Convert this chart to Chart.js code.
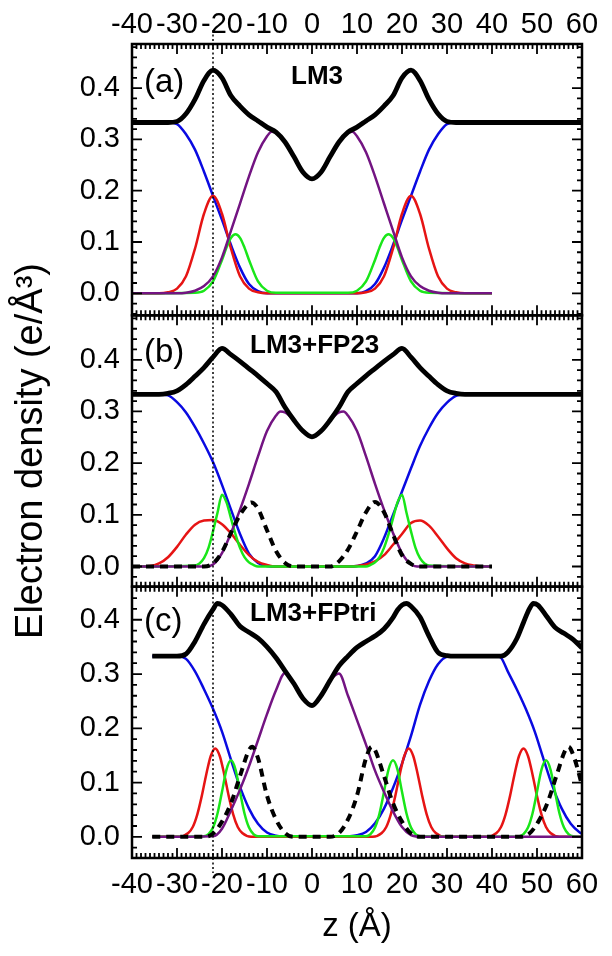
<!DOCTYPE html>
<html>
<head>
<meta charset="utf-8">
<script src="https://cdn.jsdelivr.net/npm/chart.js@4"></script>
<style>
  html, body { margin: 0; padding: 0; background: #fff; }
  #chart { display: block; }
</style>
</head>
<body>
<canvas id="chart" width="612" height="956"></canvas>
<script>
// axis ticks and labels
const zTicks = [-40, -30, -20, -10, 0, 10, 20, 30, 40, 50, 60];
const yTicks = [0, 0.1, 0.2, 0.3, 0.4];
const panelTags = ['(a)', '(b)', '(c)'];
const panelTitles = ['LM3', 'LM3+FP23', 'LM3+FPtri'];
const markerZ = -22;

// (a) LM3
const aBlackZ = [-40, -32, -30, -28, -26, -24, -22, -20, -18, -16, -14, -12, -10, -8, -6, -4, -2, 0, 2, 4, 6, 8, 10, 12, 14, 16, 18, 20, 22, 24, 26, 28, 30, 32, 60];
const aBlackV = [0.333, 0.333, 0.335, 0.35, 0.378, 0.415, 0.435, 0.42, 0.385, 0.365, 0.348, 0.336, 0.324, 0.314, 0.295, 0.266, 0.236, 0.223, 0.236, 0.266, 0.295, 0.314, 0.324, 0.336, 0.348, 0.365, 0.385, 0.42, 0.435, 0.415, 0.378, 0.35, 0.335, 0.333, 0.333];
const aBlueZ = [-40, -32, -30, -28, -26, -24, -22, -20, -18, -16, -14, -12, -10, 10, 12, 14, 16, 18, 20, 22, 24, 26, 28, 30, 32, 40];
const aBlueV = [0.333, 0.333, 0.33, 0.31, 0.28, 0.237, 0.19, 0.143, 0.094, 0.05, 0.018, 0.004, 0, 0, 0.004, 0.018, 0.05, 0.094, 0.143, 0.19, 0.237, 0.28, 0.31, 0.33, 0.333, 0.333];
const aRedZ = [-40, -34, -32, -30, -28, -26, -24, -22, -20, -18, -16, -14, -12, -10, 10, 12, 14, 16, 18, 20, 22, 24, 26, 28, 30, 32, 34, 40];
const aRedV = [0, 0, 0.002, 0.009, 0.033, 0.087, 0.155, 0.19, 0.155, 0.087, 0.033, 0.009, 0.002, 0, 0, 0.002, 0.009, 0.033, 0.087, 0.155, 0.19, 0.155, 0.087, 0.033, 0.009, 0.002, 0, 0];
const aGreenZ = [-40, -26, -24, -22, -20, -19, -18, -17, -16, -15, -14, -12, -10, -8, 8, 10, 12, 14, 15, 16, 17, 18, 19, 20, 22, 24, 26, 40];
const aGreenV = [0, 0.001, 0.005, 0.023, 0.065, 0.089, 0.108, 0.115, 0.108, 0.089, 0.065, 0.023, 0.005, 0.001, 0.001, 0.005, 0.023, 0.065, 0.089, 0.108, 0.115, 0.108, 0.089, 0.065, 0.023, 0.005, 0.001, 0];
const aPurpleZ = [-40, -30, -28, -26, -24, -22, -20, -18, -16, -14, -12, -10, -9, -8, -6, -4, -2, 0, 2, 4, 6, 8, 9, 10, 12, 14, 16, 18, 20, 22, 24, 26, 28, 30, 40];
const aPurpleV = [0, 0, 0.001, 0.005, 0.014, 0.033, 0.07, 0.122, 0.175, 0.228, 0.275, 0.306, 0.315, 0.313, 0.295, 0.266, 0.236, 0.223, 0.236, 0.266, 0.295, 0.313, 0.315, 0.306, 0.275, 0.228, 0.175, 0.122, 0.07, 0.033, 0.014, 0.005, 0.001, 0, 0];

// (b) LM3+FP23
const bBlackZ = [-40, -34, -32, -30, -28, -26, -24, -22, -20, -18, -16, -14, -12, -10, -8, -6, -4, -2, 0, 2, 4, 6, 8, 10, 12, 14, 16, 18, 20, 22, 24, 26, 28, 30, 32, 34, 60];
const bBlackV = [0.333, 0.333, 0.335, 0.34, 0.352, 0.368, 0.385, 0.405, 0.422, 0.41, 0.397, 0.383, 0.369, 0.354, 0.338, 0.308, 0.283, 0.262, 0.251, 0.262, 0.283, 0.308, 0.338, 0.354, 0.369, 0.383, 0.397, 0.41, 0.422, 0.405, 0.385, 0.368, 0.352, 0.34, 0.335, 0.333, 0.333];
const bBlueZ = [-40, -34, -32, -30, -28, -26, -24, -22, -20, -18, -16, -14, -12, -10, -8, 8, 10, 12, 14, 16, 18, 20, 22, 24, 26, 28, 30, 32, 34, 40];
const bBlueV = [0.333, 0.333, 0.331, 0.318, 0.298, 0.27, 0.238, 0.202, 0.158, 0.11, 0.063, 0.025, 0.007, 0.001, 0, 0, 0.001, 0.006, 0.02, 0.055, 0.1, 0.145, 0.19, 0.233, 0.268, 0.297, 0.317, 0.33, 0.333, 0.333];
const bRedZ = [-40, -36, -34, -32, -30, -28, -26, -24, -22, -20, -18, -16, -14, -12, -10, -8, 8, 10, 12, 14, 16, 18, 20, 22, 24, 26, 28, 30, 32, 34, 36, 38, 40];
const bRedV = [0, 0.001, 0.006, 0.018, 0.038, 0.062, 0.081, 0.089, 0.09, 0.082, 0.064, 0.042, 0.022, 0.009, 0.003, 0, 0, 0.001, 0.004, 0.01, 0.022, 0.042, 0.063, 0.084, 0.089, 0.079, 0.058, 0.035, 0.016, 0.006, 0.002, 0, 0];
const bGreenZ = [-40, -26, -25, -24, -23, -22, -21, -20, -19, -18, -17, -16, -15, -14, -13, -12, 12, 13, 14, 15, 16, 17, 18, 19, 20, 21, 22, 23, 24, 25, 26, 40];
const bGreenV = [0, 0.002, 0.006, 0.016, 0.036, 0.068, 0.104, 0.139, 0.124, 0.093, 0.062, 0.036, 0.018, 0.008, 0.003, 0, 0, 0.003, 0.008, 0.018, 0.036, 0.062, 0.093, 0.124, 0.139, 0.104, 0.068, 0.036, 0.016, 0.006, 0.002, 0];
const bFpZ = [-40, -24, -22, -20, -18, -16, -14, -13.5, -12, -10, -8, -6, -4, 4, 6, 8, 10, 12, 14, 16, 18, 20, 22, 24, 40];
const bFpV = [0, 0, 0.006, 0.028, 0.065, 0.1, 0.122, 0.124, 0.112, 0.07, 0.03, 0.007, 0, 0, 0.01, 0.033, 0.068, 0.105, 0.125, 0.105, 0.062, 0.022, 0.005, 0, 0];
const bPurpleZ = [-40, -24, -22, -20, -18, -16, -14, -12, -10, -8, -7, -6, -4, -2, 0, 2, 4, 6, 7, 8, 10, 12, 14, 16, 18, 20, 22, 24, 40];
const bPurpleV = [0, 0, 0.004, 0.026, 0.065, 0.11, 0.16, 0.213, 0.262, 0.292, 0.3, 0.298, 0.283, 0.262, 0.251, 0.262, 0.283, 0.298, 0.3, 0.292, 0.262, 0.213, 0.16, 0.11, 0.065, 0.026, 0.004, 0, 0];

// (c) LM3+FPtri
const cBlackZ = [-35.5, -30, -28, -26, -24, -22, -21, -20, -18, -16, -14, -12, -10, -8, -6, -4, -2, 0, 2, 4, 6, 8, 10, 12, 14, 16, 18, 19, 20, 21, 22, 24, 26, 28, 30, 32, 42, 43.5, 45.5, 47, 48.3, 49.2, 50.2, 52, 54, 56, 58, 60];
const cBlackV = [0.333, 0.333, 0.337, 0.36, 0.392, 0.419, 0.43, 0.427, 0.41, 0.388, 0.377, 0.366, 0.35, 0.33, 0.306, 0.282, 0.255, 0.242, 0.26, 0.288, 0.315, 0.333, 0.349, 0.36, 0.37, 0.383, 0.404, 0.418, 0.427, 0.43, 0.425, 0.405, 0.37, 0.34, 0.334, 0.333, 0.333, 0.34, 0.365, 0.395, 0.42, 0.43, 0.427, 0.408, 0.386, 0.375, 0.364, 0.348];
const cBlueZ = [-35.5, -30, -28, -26, -24, -22, -20, -18, -16, -14, -12, -10, -8, -6, 6, 8, 10, 12, 14, 16, 18, 20, 22, 24, 26, 28, 30, 32, 41, 42, 43.5, 45.5, 47.5, 49.5, 51.5, 53.5, 55.5, 57.5, 59.5, 60];
const cBlueV = [0.333, 0.333, 0.328, 0.305, 0.272, 0.236, 0.194, 0.142, 0.092, 0.052, 0.024, 0.008, 0.002, 0, 0, 0.001, 0.003, 0.009, 0.025, 0.052, 0.09, 0.135, 0.186, 0.243, 0.287, 0.318, 0.332, 0.333, 0.333, 0.33, 0.305, 0.272, 0.236, 0.194, 0.142, 0.092, 0.052, 0.024, 0.008, 0.006];
const cRedZ = [-35.5, -29.5, -27.5, -26.5, -25.5, -24.5, -23.5, -22.5, -21.5, -20.5, -19.5, -18.5, -17.5, -16.5, -15.5, -13.5, 13.5, 15.5, 16.5, 17.5, 18.5, 19.5, 20.5, 21.5, 22.5, 23.5, 24.5, 25.5, 26.5, 27.5, 29.5, 39, 41, 42, 43, 44, 45, 46, 47, 48, 49, 50, 51, 52, 53, 55, 60];
const cRedV = [0, 0, 0.007, 0.018, 0.041, 0.075, 0.115, 0.149, 0.163, 0.149, 0.115, 0.075, 0.041, 0.018, 0.007, 0, 0, 0.007, 0.018, 0.041, 0.075, 0.115, 0.149, 0.163, 0.149, 0.115, 0.075, 0.041, 0.018, 0.007, 0, 0, 0.007, 0.018, 0.041, 0.075, 0.115, 0.149, 0.163, 0.149, 0.115, 0.075, 0.041, 0.018, 0.007, 0, 0];
const cGreenZ = [-35.5, -24, -23, -22, -21, -20, -19, -18, -17, -16, -15, -14, -13, -12, 12, 13, 14, 15, 16, 17, 18, 19, 20, 21, 22, 23, 24, 45, 46, 47, 48, 49, 50, 51, 52, 53, 54, 55, 56, 57, 58, 60];
const cGreenV = [0, 0.001, 0.005, 0.017, 0.043, 0.083, 0.124, 0.141, 0.124, 0.083, 0.043, 0.017, 0.005, 0.001, 0.001, 0.005, 0.017, 0.043, 0.083, 0.124, 0.141, 0.124, 0.083, 0.043, 0.017, 0.005, 0.001, 0, 0.001, 0.005, 0.017, 0.043, 0.083, 0.124, 0.141, 0.124, 0.083, 0.043, 0.017, 0.005, 0.001, 0];
const cFpZ = [-35.5, -24, -22, -20, -18, -16, -14, -13.3, -12, -10, -8, -6, -4, 4, 6, 8, 10, 12, 13.3, 14, 16, 18, 20, 22, 24, 46.3, 48.3, 50.3, 52.3, 54.3, 56.3, 57, 58.3, 60];
const cFpV = [0, 0, 0.006, 0.028, 0.062, 0.112, 0.16, 0.166, 0.145, 0.076, 0.032, 0.007, 0, 0, 0.007, 0.032, 0.076, 0.145, 0.166, 0.16, 0.112, 0.062, 0.028, 0.006, 0, 0, 0.006, 0.028, 0.062, 0.112, 0.16, 0.166, 0.145, 0.095];
const cPurpleZ = [-35.5, -22, -20, -18, -16, -14, -12, -10, -8, -6, -4, -2, 0, 2, 4, 6, 8, 10, 12, 14, 16, 18, 20, 22, 24, 60];
const cPurpleV = [0, 0.001, 0.015, 0.049, 0.087, 0.13, 0.178, 0.226, 0.27, 0.302, 0.282, 0.255, 0.242, 0.26, 0.288, 0.301, 0.26, 0.215, 0.17, 0.122, 0.083, 0.047, 0.018, 0.003, 0, 0];

const FONT = "'Liberation Sans', Arial, Helvetica, sans-serif";
const BLACK = '#000000';
const BLUE = 'rgb(10, 10, 225)';
const RED = 'rgb(230, 20, 20)';
const GREEN = 'rgb(25, 230, 25)';
const PURPLE = 'rgb(115, 20, 130)';

function pts(zs, vs) {
    return zs.map((z, i) => ({ x: z, y: vs[i] }));
}

function curve(zs, vs, color, width, yAxisID, dash) {
    return {
        data: pts(zs, vs),
        borderColor: color,
        borderWidth: width,
        borderDash: dash || [],
        xAxisID: 'x',
        yAxisID: yAxisID,
        pointRadius: 0,
        cubicInterpolationMode: 'monotone',
        fill: false
    };
}

// first dataset is drawn on top
const datasets = [
    curve(aBlackZ, aBlackV, BLACK, 4.8, 'ya'),
    curve(aPurpleZ, aPurpleV, PURPLE, 2.5, 'ya'),
    curve(aGreenZ, aGreenV, GREEN, 2.5, 'ya'),
    curve(aRedZ, aRedV, RED, 2.5, 'ya'),
    curve(aBlueZ, aBlueV, BLUE, 2.5, 'ya'),

    curve(bBlackZ, bBlackV, BLACK, 4.8, 'yb'),
    curve(bFpZ, bFpV, BLACK, 4, 'yb', [8, 6]),
    curve(bPurpleZ, bPurpleV, PURPLE, 2.5, 'yb'),
    curve(bGreenZ, bGreenV, GREEN, 2.5, 'yb'),
    curve(bRedZ, bRedV, RED, 2.5, 'yb'),
    curve(bBlueZ, bBlueV, BLUE, 2.5, 'yb'),

    curve(cBlackZ, cBlackV, BLACK, 4.8, 'yc'),
    curve(cFpZ, cFpV, BLACK, 4, 'yc', [8, 6]),
    curve(cPurpleZ, cPurpleV, PURPLE, 2.5, 'yc'),
    curve(cGreenZ, cGreenV, GREEN, 2.5, 'yc'),
    curve(cRedZ, cRedV, RED, 2.5, 'yc'),
    curve(cBlueZ, cBlueV, BLUE, 2.5, 'yc')
];

function yScale(min, max, weight, title) {
    return {
        type: 'linear',
        position: 'left',
        stack: 'panels',
        stackWeight: 1,
        weight: weight,
        min: min,
        max: max,
        grid: { display: false, drawTicks: false },
        border: { display: false },
        afterBuildTicks: s => { s.ticks = yTicks.map(v => ({ value: v })); },
        afterFit: s => { s.width = 132; },
        ticks: {
            font: { family: FONT, size: 29 },
            color: BLACK,
            padding: 12,
            callback: v => v.toFixed(1)
        },
        title: title ? {
            display: true,
            text: title,
            font: { family: FONT, size: 38 },
            color: BLACK,
            padding: { top: 9, bottom: 0 }
        } : { display: false }
    };
}

function xScale(position, height, padding, title) {
    return {
        type: 'linear',
        position: position,
        min: -40,
        max: 60,
        grid: { display: false, drawTicks: false },
        border: { display: false },
        afterBuildTicks: s => { s.ticks = zTicks.map(v => ({ value: v })); },
        afterFit: s => { s.height = height; },
        ticks: {
            font: { family: FONT, size: 29 },
            color: BLACK,
            padding: padding,
            autoSkip: false,
            maxRotation: 0,
            callback: v => String(v)
        },
        title: title ? {
            display: true,
            text: title,
            font: { family: FONT, size: 33 },
            color: BLACK,
            padding: { top: 0, bottom: 9 }
        } : { display: false }
    };
}

// frames with inward ticks, panel labels, dotted marker line
const panelDecor = {
    id: 'panelDecor',
    afterDatasetsDraw(chart) {
        const ctx = chart.ctx;
        const x = chart.scales.x;
        const tagDy = [39, 38, 35];
        const titleDx = [159, 118, 118];
        const titleDy = [33, 30, 27];

        ['ya', 'yb', 'yc'].forEach((id, i) => {
            const y = chart.scales[id];
            const L = x.left, R = x.right, T = y.top, B = y.bottom;
            ctx.save();
            ctx.strokeStyle = BLACK;

            ctx.lineWidth = 1.8;
            ctx.beginPath();
            for (let z = -40; z <= 60; z++) {
                const px = x.getPixelForValue(z);
                const len = z % 10 === 0 ? 10 : 5;
                ctx.moveTo(px, T); ctx.lineTo(px, T + len);
                ctx.moveTo(px, B); ctx.lineTo(px, B - len);
            }
            const k0 = Math.ceil(y.min / 0.02 - 1e-6);
            for (let k = k0; k * 0.02 <= y.max + 1e-6; k++) {
                const py = y.getPixelForValue(k * 0.02);
                const len = k % 5 === 0 ? 10 : 5;
                ctx.moveTo(L, py); ctx.lineTo(L + len, py);
                ctx.moveTo(R, py); ctx.lineTo(R - len, py);
            }
            ctx.stroke();

            ctx.lineWidth = 2.5;
            ctx.strokeRect(L, T, R - L, B - T);

            ctx.fillStyle = BLACK;
            ctx.textBaseline = 'middle';
            ctx.textAlign = 'left';
            ctx.font = '33px ' + FONT;
            ctx.fillText(panelTags[i], L + 12, T + tagDy[i]);
            ctx.font = 'bold 26px ' + FONT;
            ctx.fillText(panelTitles[i], L + titleDx[i], T + titleDy[i]);
            ctx.restore();
        });

        const mx = x.getPixelForValue(markerZ);
        ctx.save();
        ctx.strokeStyle = BLACK;
        ctx.lineWidth = 1.5;
        ctx.setLineDash([2, 2.5]);
        ctx.beginPath();
        ctx.moveTo(mx, chart.chartArea.top - 14);
        ctx.lineTo(mx, chart.chartArea.bottom + 15);
        ctx.stroke();
        ctx.restore();
    }
};

new Chart(document.getElementById('chart'), {
    type: 'line',
    data: { datasets: datasets },
    options: {
        responsive: false,
        animation: false,
        devicePixelRatio: 1,
        layout: { padding: { left: 0, right: 30, top: 0, bottom: 0 } },
        plugins: { legend: { display: false }, tooltip: { enabled: false } },
        scales: {
            x: xScale('bottom', 98, 10, 'z (Å)'),
            xTop: xScale('top', 44, 2, null),
            ya: yScale(-0.043, 0.486, 3, null),
            yb: yScale(-0.039, 0.486, 2, 'Electron density (e/Å³)'),
            yc: yScale(-0.039, 0.461, 1, null)
        }
    },
    plugins: [panelDecor]
});
</script>
</body>
</html>
